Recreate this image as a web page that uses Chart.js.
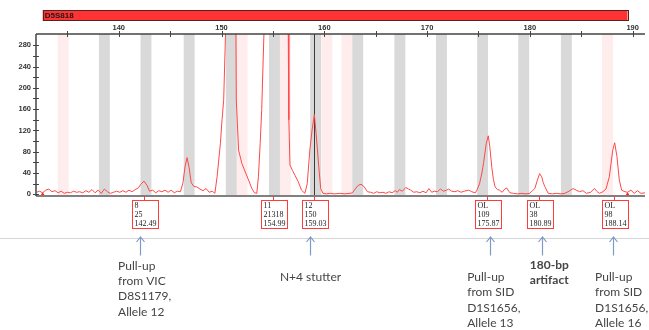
<!DOCTYPE html>
<html>
<head>
<meta charset="utf-8">
<script src="https://cdn.jsdelivr.net/npm/chart.js@4.4.1/dist/chart.umd.min.js"></script>
<style>
  html, body { margin: 0; padding: 0; background: #fff; }
  canvas { display: block; }
</style>
</head>
<body>
<canvas id="chart" width="649" height="330" style="width:649px;height:330px"></canvas>
<script>
// marker panel
const markerName = 'D5S818';
const markerRange = [132.6, 189.5];

// axes
const xTicks = [135, 140, 145, 150, 155, 160, 165, 170, 175, 180, 185, 190];
const yTicks = [0, 20, 40, 60, 80, 100, 120, 140, 160, 180, 200, 220, 240, 260, 280];

// allele bins (centre, bp)
const grayBins = [138.6, 142.65, 146.85, 150.95, 155.15, 159.15, 163.25, 167.35, 171.4, 175.4, 179.4, 183.55];
const pinkBins = [134.6, 152.0, 156.2, 160.25, 162.2, 187.55];
const binWidth = 1.06;

// electropherogram trace
const traceBp = [
  132.0, 132.3, 132.6, 132.9, 133.2, 133.5, 133.8, 134.1, 134.4, 134.7,
  135.0, 135.3, 135.6, 135.9, 136.2, 136.5, 136.8, 137.1, 137.4, 137.7,
  138.0, 138.3, 138.6, 138.9, 139.2, 139.5, 139.8, 140.1, 140.4, 140.7,
  141.0, 141.3, 141.6, 141.9, 142.15, 142.45, 142.75, 143.0, 143.3, 143.6,
  143.9, 144.2, 144.5, 144.8, 145.1, 145.4, 145.7, 146.0, 146.25, 146.45,
  146.65, 146.85, 147.05, 147.3, 147.6, 147.9, 148.2, 148.5, 148.8, 149.1,
  149.35, 149.57, 149.89, 150.05, 150.21, 150.40, 150.9, 151.40, 151.44, 151.66,
  151.98, 152.31, 152.63, 152.95, 153.21, 153.43, 153.59, 153.76, 153.91, 154.14,
  154.99, 156.49, 156.55, 156.66, 156.9, 157.14, 157.46, 157.78, 158.11, 158.34,
  158.59, 158.81, 159.03, 159.2, 159.46, 159.65, 159.87, 160.2, 160.6, 161.0,
  161.5, 162.0, 162.5, 162.74, 163.0, 163.3, 163.57, 163.85, 164.2, 164.5,
  164.8, 165.1, 165.4, 165.7, 166.0, 166.3, 166.6, 166.9, 167.1, 167.3,
  167.6, 167.92, 168.2, 168.4, 168.7, 169.0, 169.3, 169.6, 169.9, 170.18,
  170.45, 170.7, 171.0, 171.3, 171.6, 171.9, 172.1, 172.4, 172.7, 173.0,
  173.3, 173.6, 174.05, 174.35, 174.69, 174.85, 175.1, 175.33, 175.5, 175.75,
  175.95, 176.1, 176.3, 176.45, 176.62, 176.85, 177.04, 177.3, 177.55, 177.75,
  177.95, 178.07, 178.4, 178.8, 179.2, 179.6, 180.0, 180.25, 180.48, 180.7,
  180.95, 181.15, 181.3, 181.45, 181.78, 182.2, 182.6, 183.0, 183.4, 183.8,
  184.19, 184.5, 184.83, 185.16, 185.5, 185.9, 186.28, 186.5, 186.76, 187.1,
  187.4, 187.73, 188.06, 188.25, 188.47, 188.7, 188.93, 189.25, 189.5, 189.83,
  190.15, 190.47, 190.8, 191.2
];
const traceRfu = [
  4, 6, 3, 8, 10, 5, 7, 3, 6, 2,
  4, 3, 6, 4, 5, 3, 7, 4, 9, 3,
  8, 2, 10, 5, 2, 4, 6, 4, 7, 4,
  8, 5, 9, 12, 19, 25, 17, 6, 8, 3,
  7, 5, 8, 4, 8, 3, 6, 5, 22, 52,
  69, 50, 22, 15, 14, 10, 7, 11, 4, 6,
  2, 33, 96, 140, 177, 310, 2500, 310, 177, 83,
  58, 42, 27, 11, 3, 2, 33, 96, 159, 310,
  21318, 310, 140, 55, 45, 36, 24, 8, 2, 20,
  83, 121, 150, 115, 52, 11, 2, 1, 2, 1,
  2, 1, 2, 3, 10, 17, 19, 15, 5, 4,
  2, 5, 3, 4, 2, 5, 3, 7, 4, 9,
  6, 13, 10, 8, 4, 5, 3, 6, 3, 11,
  4, 6, 5, 10, 6, 8, 10, 6, 5, 7,
  4, 6, 8, 5, 3, 8, 20, 40, 60, 95,
  110, 90, 50, 28, 14, 9, 8, 4, 10, 12,
  6, 3, 2, 1, 2, 1, 2, 7, 11, 25,
  39, 33, 22, 15, 2, 1, 2, 1, 2, 6,
  11, 8, 5, 7, 2, 4, 11, 6, 2, 5,
  10, 33, 83, 97, 71, 27, 8, 5, 4, 8,
  2, 7, 2, 3
];

// off-scale markers on the baseline
const flagBp = [132.6, 189.5];

// called peaks
const peakSize = [142.49, 154.99, 159.03, 175.87, 180.89, 188.14];
const peakHeight = [25, 21318, 150, 109, 38, 98];
const peakAllele = ['8', '11', '12', 'OL', 'OL', 'OL'];
const selectedPeak = 159.03;

// annotations under the peaks
const notePeak = [0, 2, 3, 4, 5];
const noteText = [
  ['Pull-up', 'from VIC', 'D8S1179,', 'Allele 12'],
  ['N+4 stutter'],
  ['Pull-up', 'from SID', 'D1S1656,', 'Allele 13'],
  ['180-bp', 'artifact'],
  ['Pull-up', 'from SID', 'D1S1656,', 'Allele 16']
];
const noteBold = [false, false, false, true, false];

// layout of annotations (arrow offset from peak, text offset from arrow, first line y)
const noteLayout = [
  { arrowDx: -4.5, textDx: -22.4, y: 266, align: 'left' },
  { arrowDx: -4, textDx: 0, y: 276.7, align: 'center' },
  { arrowDx: 2.7, textDx: -23.3, y: 277.3, align: 'left' },
  { arrowDx: 3.3, textDx: -12.7, y: 265, align: 'left' },
  { arrowDx: -0.8, textDx: -18.4, y: 277.3, align: 'left' }
];

const traceData = traceBp.map((x, i) => ({ x: x, y: traceRfu[i] }));
const flagData = flagBp.map(x => ({ x: x, y: 0 }));

const binsPlugin = {
  id: 'bins',
  beforeDatasetsDraw(chart) {
    const { ctx, chartArea: a, scales: { x } } = chart;
    ctx.save();
    const band = (c, color) => {
      const l = x.getPixelForValue(c - binWidth / 2);
      const r = x.getPixelForValue(c + binWidth / 2);
      ctx.fillStyle = color;
      ctx.fillRect(l, a.top, r - l, a.bottom - a.top);
    };
    pinkBins.forEach(c => band(c, '#ffecec'));
    grayBins.forEach(c => band(c, '#d9d9d9'));
    const sx = Math.round(x.getPixelForValue(selectedPeak)) + 0.5;
    ctx.strokeStyle = '#3a3a3a';
    ctx.lineWidth = 1;
    ctx.beginPath();
    ctx.moveTo(sx, a.top);
    ctx.lineTo(sx, a.bottom);
    ctx.stroke();
    ctx.restore();
  }
};

const framePlugin = {
  id: 'frame',
  afterDraw(chart) {
    const { ctx, chartArea: a, scales: { x, y } } = chart;
    ctx.save();

    // marker bar
    const bl = x.getPixelForValue(markerRange[0]);
    const br = x.getPixelForValue(markerRange[1]);
    ctx.fillStyle = '#ff3333';
    ctx.fillRect(bl, 10, br - bl, 11);
    ctx.strokeStyle = '#552222';
    ctx.lineWidth = 1;
    ctx.strokeRect(Math.round(bl) + 0.5, 10.5, Math.round(br - bl), 10);
    ctx.fillStyle = '#1a1a1a';
    ctx.font = 'bold 8px "Liberation Sans", Arial, sans-serif';
    ctx.textBaseline = 'middle';
    ctx.textAlign = 'left';
    ctx.fillText(markerName, bl + 2, 16);

    // axes
    ctx.strokeStyle = '#808080';
    ctx.lineWidth = 2;
    ctx.beginPath();
    ctx.moveTo(a.left, a.bottom);
    ctx.lineTo(a.right, a.bottom);
    ctx.stroke();
    ctx.strokeStyle = '#444';
    ctx.lineWidth = 1.5;
    ctx.beginPath();
    ctx.moveTo(a.left, a.top);
    ctx.lineTo(a.right, a.top);
    ctx.moveTo(a.left, a.top);
    ctx.lineTo(a.left, a.bottom);
    ctx.stroke();
    ctx.lineWidth = 1;
    ctx.beginPath();
    xTicks.forEach(v => {
      const px = Math.round(x.getPixelForValue(v)) + 0.5;
      ctx.moveTo(px, a.top - 3);
      ctx.lineTo(px, a.top + 3);
    });
    yTicks.forEach(v => {
      const py = Math.round(y.getPixelForValue(v)) + 0.5;
      ctx.moveTo(a.left - 3, py);
      ctx.lineTo(a.left + 3, py);
    });
    ctx.stroke();

    // allele call boxes
    const boxTop = 200, boxH = 28, boxW = 26;
    ctx.font = '8px "Liberation Serif", "Times New Roman", serif';
    ctx.textAlign = 'left';
    ctx.textBaseline = 'middle';
    peakSize.forEach((s, i) => {
      const cx = Math.round(x.getPixelForValue(s)) + 0.5;
      ctx.strokeStyle = '#ff3b3b';
      ctx.lineWidth = 1;
      ctx.beginPath();
      ctx.moveTo(cx, a.bottom);
      ctx.lineTo(cx, boxTop);
      ctx.stroke();
      const l = cx - 12;
      ctx.strokeRect(l, boxTop + 0.5, boxW, boxH);
      ctx.fillStyle = '#1a1a1a';
      const lines = [peakAllele[i], String(peakHeight[i]), s.toFixed(2)];
      lines.forEach((t, k) => ctx.fillText(t, l + 2, boxTop + 5.5 + k * 9.2));
    });

    // separator
    ctx.strokeStyle = '#d6d6d6';
    ctx.lineWidth = 1;
    ctx.beginPath();
    ctx.moveTo(0, 238.5);
    ctx.lineTo(chart.width, 238.5);
    ctx.stroke();

    // arrows and notes
    notePeak.forEach((p, i) => {
      const lay = noteLayout[i];
      const ax = Math.round(x.getPixelForValue(peakSize[p]) + lay.arrowDx) + 0.5;
      ctx.strokeStyle = '#7f9ac6';
      ctx.lineWidth = 1.2;
      ctx.beginPath();
      ctx.moveTo(ax, 255.5);
      ctx.lineTo(ax, 237);
      ctx.moveTo(ax - 4, 242);
      ctx.lineTo(ax, 237);
      ctx.lineTo(ax + 4, 242);
      ctx.stroke();
      ctx.fillStyle = '#454545';
      ctx.font = (noteBold[i] ? 'bold ' : '') + '12px Lato, "Open Sans", sans-serif';
      ctx.textAlign = lay.align;
      ctx.textBaseline = 'middle';
      noteText[i].forEach((t, k) => ctx.fillText(t, ax + lay.textDx, lay.y + k * 15.3));
    });
    ctx.restore();
  }
};

new Chart(document.getElementById('chart').getContext('2d'), {
  type: 'line',
  data: {
    datasets: [{
      data: traceData,
      borderColor: '#ff4848',
      borderWidth: 1,
      pointRadius: 0,
      fill: false,
      tension: 0
    }, {
      type: 'scatter',
      data: flagData,
      pointStyle: 'triangle',
      pointRadius: 2.5,
      backgroundColor: '#ff2020',
      borderColor: '#ff2020',
      borderWidth: 0,
      clip: false
    }]
  },
  options: {
    responsive: false,
    devicePixelRatio: 1,
    animation: false,
    layout: { padding: { top: 0, left: 0, right: 0, bottom: 134 } },
    plugins: { legend: { display: false }, tooltip: { enabled: false } },
    scales: {
      x: {
        type: 'linear',
        position: 'top',
        min: 131.95,
        max: 191.2,
        grid: { display: false, drawTicks: false, tickLength: 0 },
        border: { display: false },
        afterBuildTicks: s => { s.ticks = xTicks.map(v => ({ value: v })); },
        afterFit: s => { s.height = 34; },
        ticks: {
          autoSkip: false,
          maxRotation: 0,
          padding: 2,
          color: '#333',
          font: { family: '"Liberation Sans", Arial, sans-serif', size: 7.5, weight: 'bold' },
          callback: v => (v % 10 === 0 ? String(v) : '')
        }
      },
      y: {
        type: 'linear',
        min: -3,
        max: 301,
        grid: { display: false, drawTicks: false, tickLength: 0 },
        border: { display: false },
        afterBuildTicks: s => { s.ticks = yTicks.map(v => ({ value: v })); },
        afterFit: s => { s.width = 36; },
        ticks: {
          autoSkip: false,
          padding: 5,
          color: '#333',
          font: { family: '"Liberation Sans", Arial, sans-serif', size: 7.5, weight: 'bold' },
          callback: v => (v % 40 === 0 ? String(v) : '')
        }
      }
    }
  },
  plugins: [binsPlugin, framePlugin]
});
</script>
</body>
</html>
